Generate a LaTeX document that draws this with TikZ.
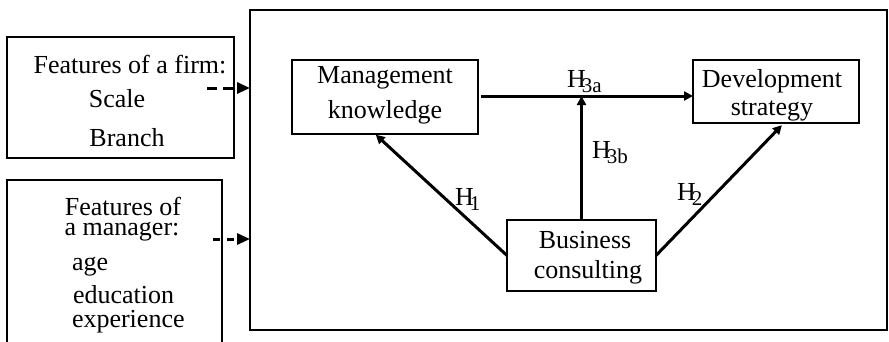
\documentclass[tikz,border=0pt]{standalone}
\usepackage{fontspec}
\setmainfont{Liberation Serif}
\usetikzlibrary{arrows.meta}
\newcommand{\Hs}[1]{H\kern-4pt\raisebox{-5.5pt}{\fontsize{21}{21}\selectfont #1}}
\begin{document}
\begin{tikzpicture}[x=1pt,y=-1pt,
  every node/.style={inner sep=0pt,outer sep=0pt},
  box/.style={draw,line width=1.5pt},
  txt/.style={anchor=base,font=\fontsize{26}{30}\selectfont},
  conn/.style={line width=3pt,-{Triangle[length=9pt,width=9pt]}},
  dconn/.style={line width=3pt,-{Triangle[length=13pt,width=11pt]}}]
\useasboundingbox (0,0) rectangle (889,341);
% outer frame
\node[box,minimum width=637pt,minimum height=320pt] (frame) at (568.5,170) {};
% firm box
\node[box,minimum width=227pt,minimum height=121pt] (firm) at (120.5,97.5) {};
\node[txt] (f1) at (130,73) {Features of a firm:};
\node[txt] (f2) at (117,107) {Scale};
\node[txt] (f3) at (127,146) {Branch};
% manager box (open at the bottom)
\draw[line width=1.5pt] (7,350) -- (7,180) -- (222,180) -- (222,350);
\node[txt] (m1) at (123,215) {Features of};
\node[txt] (m2) at (122,235) {a manager:};
\node[txt,anchor=base west] (m3) at (72,270) {age};
\node[txt,anchor=base west] (m4) at (73,303) {education};
\node[txt,anchor=base west] (m5) at (72,327) {experience};
% inner boxes
\node[box,minimum width=186pt,minimum height=74pt] (mk) at (385,97) {};
\node[txt] (mkt1) at (385,83) {Management};
\node[txt] (mkt2) at (385,118) {knowledge};
\node[box,minimum width=166pt,minimum height=63pt] (ds) at (776,91.5) {};
\node[txt] (dst1) at (772,87) {Development};
\node[txt] (dst2) at (772,115) {strategy};
\node[box,minimum width=149pt,minimum height=71pt] (bc) at (581.5,255.5) {};
\node[txt] (bct1) at (585,248) {Business};
\node[txt] (bct2) at (588,278) {consulting};
% dashed inputs
\coordinate (fs) at (207,88);
\coordinate (ms) at (213,239);
\draw[dconn,dash pattern=on 10pt off 6pt] (fs) -- (fs -| frame.west);
\draw[dconn,dash pattern=on 7pt off 7pt] (ms) -- (ms -| frame.west);
% connectors
\coordinate (a3) at (481,96);
\draw[conn] (a3) -- (a3 -| ds.west);
\draw[conn] (bc.north) -- (bc.north |- a3);
\draw[conn,shorten >=1pt] (bc.west) -- ([xshift=-10pt]mk.south);
\draw[conn,shorten >=3pt] (bc.east) -- ([xshift=8pt]ds.south);
% labels
\node[txt,anchor=base west] (h3a) at (567,87) {\Hs{3a}};
\node[txt,anchor=base west] (h3b) at (592,158) {\Hs{3b}};
\node[txt,anchor=base west] (h1) at (455,205) {\Hs{1}};
\node[txt,anchor=base west] (h2) at (677,200) {\Hs{2}};
\end{tikzpicture}
\end{document}
